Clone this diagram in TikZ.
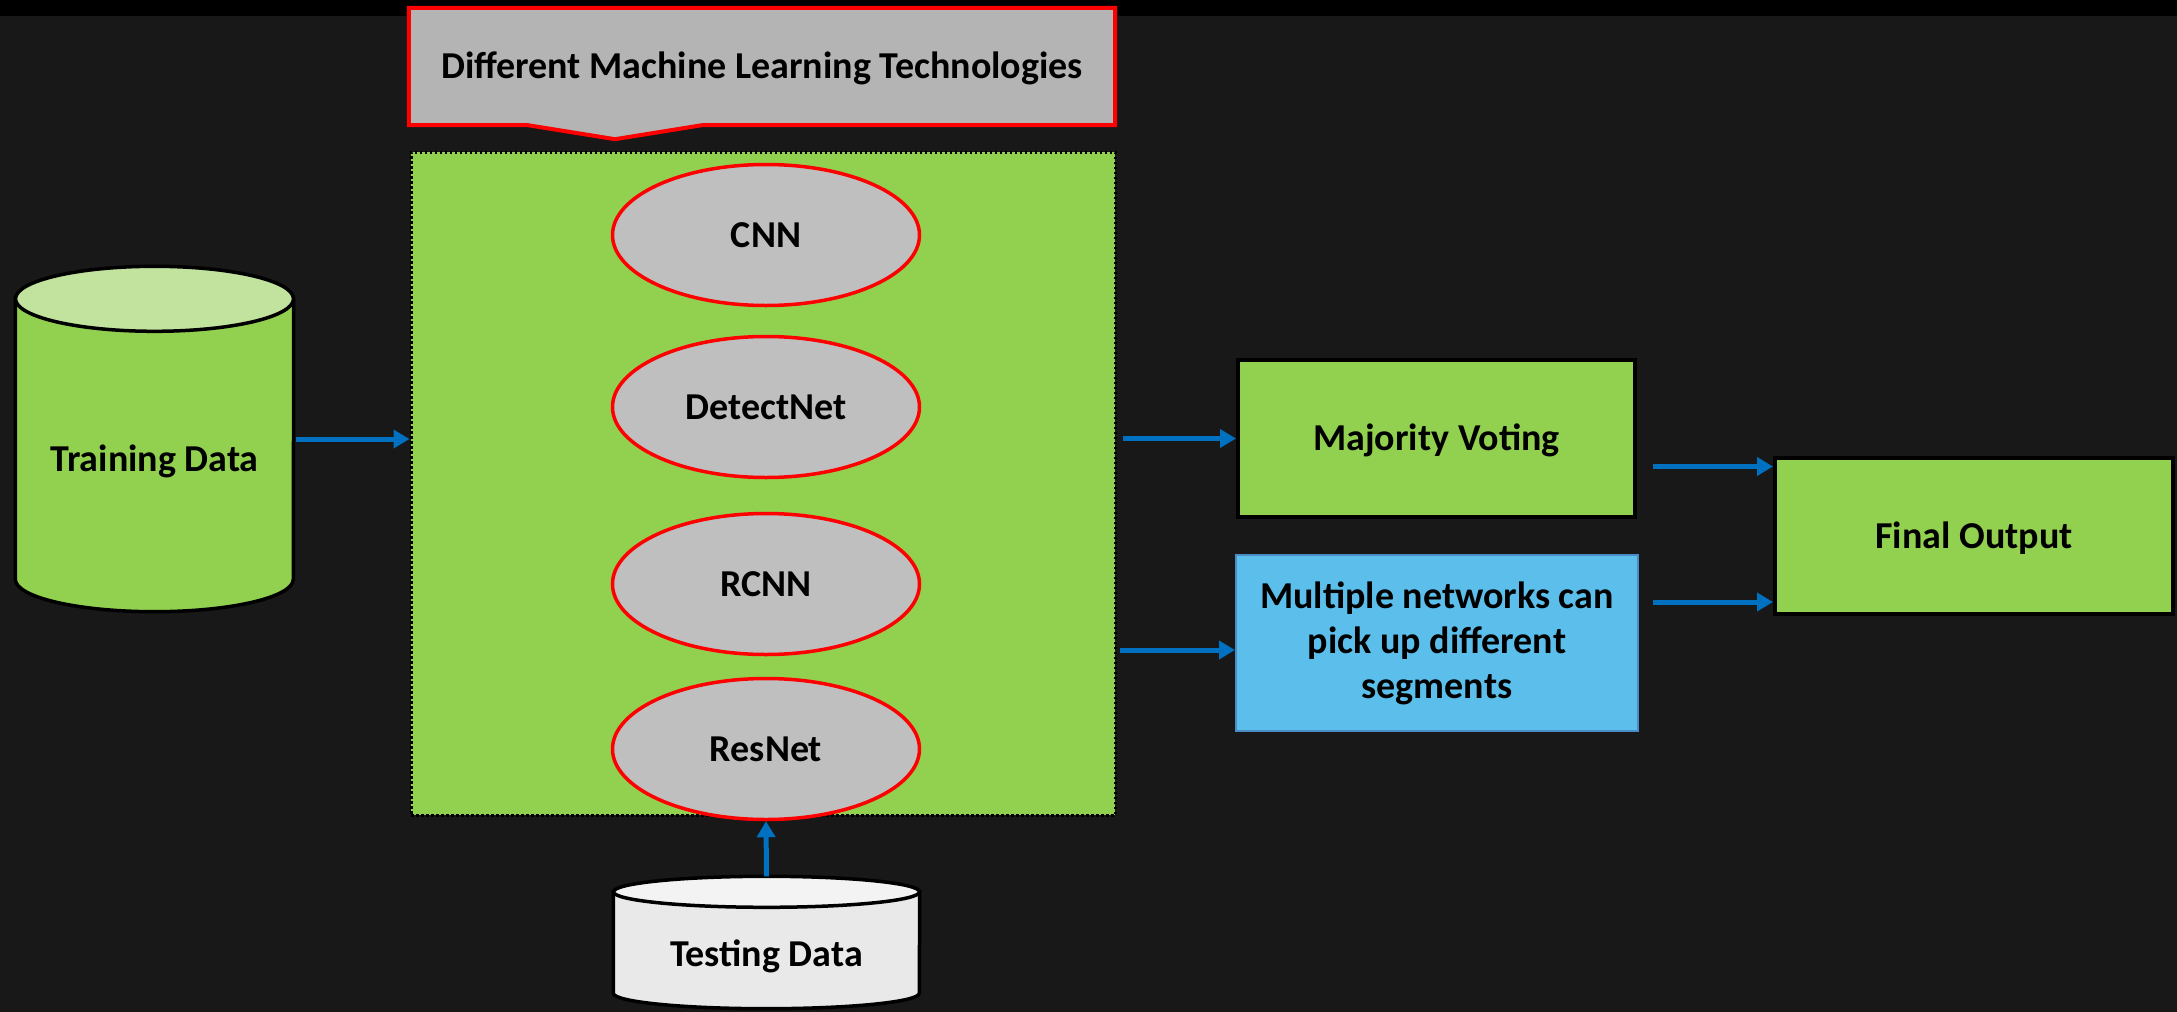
\documentclass[tikz,border=0pt]{standalone}
\usepackage{fontspec}
\setmainfont{Carlito}
\usetikzlibrary{arrows.meta,shapes.geometric,calc}

\definecolor{canvas}{HTML}{181818}
\definecolor{leaf}{HTML}{92D050}
\definecolor{leaflight}{HTML}{C2E39E}
\definecolor{stone}{HTML}{BFBFBF}
\definecolor{callgray}{HTML}{B4B4B4}
\definecolor{sky}{HTML}{5CBFEB}
\definecolor{skyedge}{HTML}{4A8CC4}
\definecolor{flow}{HTML}{0070C0}
\definecolor{paper}{HTML}{E9E9E9}
\definecolor{paperlight}{HTML}{F3F3F3}

\begin{document}
\begin{tikzpicture}[x=1pt,y=1pt,
  lbl/.style={font=\fontsize{38}{45}\selectfont\bfseries, text=black, inner sep=0pt},
  caps/.style={text height=24pt, text depth=0pt},
  model/.style={ellipse, draw=red, line width=3.5pt, fill=stone,
    minimum width=307pt, minimum height=141pt, inner sep=0pt, lbl, caps},
  box/.style={rectangle, line width=4pt, draw=black, fill=leaf, inner sep=0pt, lbl},
  holder/.style={rectangle, inner sep=0pt},
  cyl/.style={line width=3.5pt, draw=black},
  arr/.style={draw=flow, line width=5pt, -{Triangle[length=16pt,width=18pt]}},
  ]
\useasboundingbox (0,0) rectangle (2177,-1012);
\fill[canvas] (0,0) rectangle (2177,-1012);
\fill[black] (0,0) rectangle (2177,-16);

% callout banner with its downward pointer
\node[holder, minimum width=706pt, minimum height=117pt] (callout) at (762,-66.5) {};
\draw[draw=red, line width=4pt, fill=callgray, line join=miter]
  (callout.north west) -- (callout.north east) -- (callout.south east)
  -- ([xshift=-60pt]callout.south) -- ([shift={(-147pt,-14pt)}]callout.south)
  -- ([xshift=-234pt]callout.south) -- (callout.south west) -- cycle;
\node[lbl, caps] (calloutlabel) at (callout.center) {Different Machine Learning Technologies};

% panel of models
\node[draw=black, dash pattern=on 2.5pt off 2.5pt, line width=3pt, fill=leaf,
  minimum width=704pt, minimum height=663pt, inner sep=0pt] (ml) at (763,-483.5) {};
\node[model] (cnn) at (766,-235) {CNN};
\node[model] (detectnet) at (766,-407) {DetectNet};
\node[model] (rcnn) at (766,-584) {RCNN};
\node[model] (resnet) at (766,-749) {ResNet};

% training data cylinder
\node[holder, minimum width=278pt, minimum height=345pt] (train) at (154.5,-439) {};
\draw[cyl, fill=leaf] ([yshift=-32.5pt]train.north west) -- ([yshift=32.5pt]train.south west)
  arc[start angle=180, end angle=360, x radius=139pt, y radius=32.5pt]
  -- ([yshift=-32.5pt]train.north east) -- cycle;
\draw[cyl, fill=leaflight] ([yshift=-32.5pt]train.north) ellipse[x radius=139pt, y radius=32.5pt];
\node[lbl, caps] (trainlabel) at (154.5,-459) {Training Data};

% testing data cylinder
\node[holder, minimum width=306pt, minimum height=132pt] (test) at (766.5,-942.5) {};
\draw[cyl, fill=paper] ([yshift=-15.5pt]test.north west) -- ([yshift=15.5pt]test.south west)
  arc[start angle=180, end angle=360, x radius=153pt, y radius=15.5pt]
  -- ([yshift=-15.5pt]test.north east) -- cycle;
\draw[cyl, fill=paperlight] ([yshift=-15.5pt]test.north) ellipse[x radius=153pt, y radius=15.5pt];
\node[lbl, caps] (testlabel) at (766.5,-954) {Testing Data};

% combination stage
\node[box, caps, minimum width=397pt, minimum height=157pt] (vote) at (1436.5,-438.5) {Majority Voting};
\node[box, fill=sky, draw=skyedge, line width=2pt, minimum width=402pt, minimum height=176pt,
  align=center] (multi) at (1437,-643) {Multiple networks can\\pick up different\\segments};
\node[box, caps, minimum width=398pt, minimum height=156pt] (final) at (1974,-536) {Final Output};

% connectors
\draw[arr] ([xshift=2pt]train.east) -- (train.east -| ml.west);
\draw[arr] (test.north) -- (resnet.south);
\coordinate (g1) at (ml.east |- vote.west);
\draw[arr] ([xshift=6pt]g1) -- (vote.west);
\coordinate (g2) at ([yshift=-7pt]multi.west);
\coordinate (g2s) at (g2 -| ml.east);
\draw[arr] ([xshift=3pt]g2s) -- (g2);
\coordinate (f1) at ([shift={(16pt,-28pt)}]vote.east);
\draw[arr] (f1) -- (f1 -| final.west);
\coordinate (f2) at ([shift={(14pt,41pt)}]multi.east);
\draw[arr] (f2) -- (f2 -| final.west);
\end{tikzpicture}
\end{document}
